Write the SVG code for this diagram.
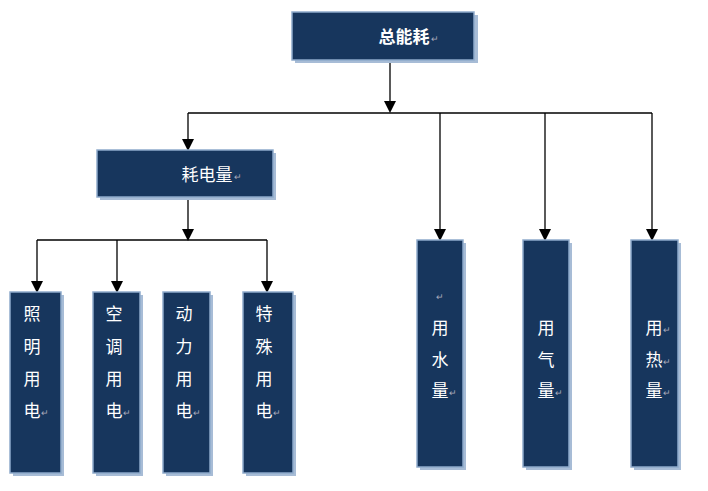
<svg xmlns="http://www.w3.org/2000/svg" width="708" height="491" viewBox="0 0 708 491">
<defs>
<style>
.b{fill:#17365d;stroke:#8eaacb;stroke-width:1.5}
.s{fill:#a7bcd6}
.t{fill:#fff;font-family:"Noto Sans CJK SC","Liberation Sans",sans-serif;font-size:17px;text-anchor:middle}
.p{fill:#aab;font-family:"Liberation Sans",sans-serif;font-size:9px}
.c{stroke:#000;stroke-width:1.3;fill:none}
</style>
<marker id="a" markerWidth="10" markerHeight="10" refX="5" refY="9" orient="auto" markerUnits="userSpaceOnUse" viewBox="0 0 10 10"><path d="M0,0 L10,0 L5,10 Z" fill="#000" transform="rotate(-90 5 5)"/></marker>
<marker id="d" markerWidth="12" markerHeight="12" refX="10" refY="6" orient="auto" markerUnits="userSpaceOnUse" viewBox="0 0 12 12"><path d="M0,0 L12,6 L0,12 Z" fill="#000"/></marker>
</defs>
<g id="connectors" class="c">
<path d="M390,60 V111" marker-end="url(#d)"/>
<path d="M188,113 H652"/>
<path d="M188,113 V149" marker-end="url(#d)"/>
<path d="M440,113 V239" marker-end="url(#d)"/>
<path d="M545,113 V239" marker-end="url(#d)"/>
<path d="M652,113 V239" marker-end="url(#d)"/>
<path d="M188,197 V239" marker-end="url(#d)"/>
<path d="M37,240 H267"/>
<path d="M37,240 V291" marker-end="url(#d)"/>
<path d="M117,240 V291" marker-end="url(#d)"/>
<path d="M267,240 V291" marker-end="url(#d)"/>
</g>
<g id="n-total"><rect class="s" x="295" y="15" width="183" height="48"/><rect class="b" x="292" y="12" width="182" height="48"/><text class="t" x="404" y="43" font-weight="bold">总能耗</text><text class="p" x="431" y="42">↵</text></g>
<g id="n-elec"><rect class="s" x="100" y="153" width="176" height="47"/><rect class="b" x="97" y="150" width="176" height="47"/><text class="t" x="207" y="181">耗电量</text><text class="p" x="234" y="180">↵</text></g>
<g id="n-light"><rect class="s" x="13" y="295" width="51" height="181"/><rect class="b" x="10" y="292" width="51" height="181"/><text class="t" x="32" y="320">照</text><text class="t" x="32" y="353">明</text><text class="t" x="32" y="385">用</text><text class="t" x="32" y="417">电</text><text class="p" x="41" y="416">↵</text></g>
<g id="n-ac"><rect class="s" x="96" y="295" width="47" height="181"/><rect class="b" x="93" y="292" width="47" height="181"/><text class="t" x="114" y="320">空</text><text class="t" x="114" y="353">调</text><text class="t" x="114" y="385">用</text><text class="t" x="114" y="417">电</text><text class="p" x="123" y="416">↵</text></g>
<g id="n-power"><rect class="s" x="166" y="295" width="47" height="181"/><rect class="b" x="163" y="292" width="47" height="181"/><text class="t" x="184" y="320">动</text><text class="t" x="184" y="353">力</text><text class="t" x="184" y="385">用</text><text class="t" x="184" y="417">电</text><text class="p" x="193" y="416">↵</text></g>
<g id="n-special"><rect class="s" x="246" y="295" width="50" height="181"/><rect class="b" x="243" y="292" width="50" height="181"/><text class="t" x="264" y="320">特</text><text class="t" x="264" y="353">殊</text><text class="t" x="264" y="385">用</text><text class="t" x="264" y="417">电</text><text class="p" x="273" y="416">↵</text></g>
<g id="n-water"><rect class="s" x="420" y="243" width="46" height="227"/><rect class="b" x="417" y="240" width="46" height="227"/><text class="p" x="436" y="300">↵</text><text class="t" x="440" y="334">用</text><text class="t" x="440" y="366">水</text><text class="t" x="440" y="397">量</text><text class="p" x="449" y="396">↵</text></g>
<g id="n-gas"><rect class="s" x="526" y="243" width="46" height="227"/><rect class="b" x="523" y="240" width="46" height="227"/><text class="t" x="546" y="334">用</text><text class="t" x="546" y="366">气</text><text class="t" x="546" y="397">量</text><text class="p" x="555" y="396">↵</text></g>
<g id="n-heat"><rect class="s" x="634" y="243" width="47" height="227"/><rect class="b" x="631" y="240" width="47" height="227"/><text class="t" x="654" y="334">用</text><text class="p" x="663" y="333">↵</text><text class="t" x="654" y="366">热</text><text class="p" x="663" y="365">↵</text><text class="t" x="654" y="397">量</text><text class="p" x="663" y="396">↵</text></g>
</svg>
